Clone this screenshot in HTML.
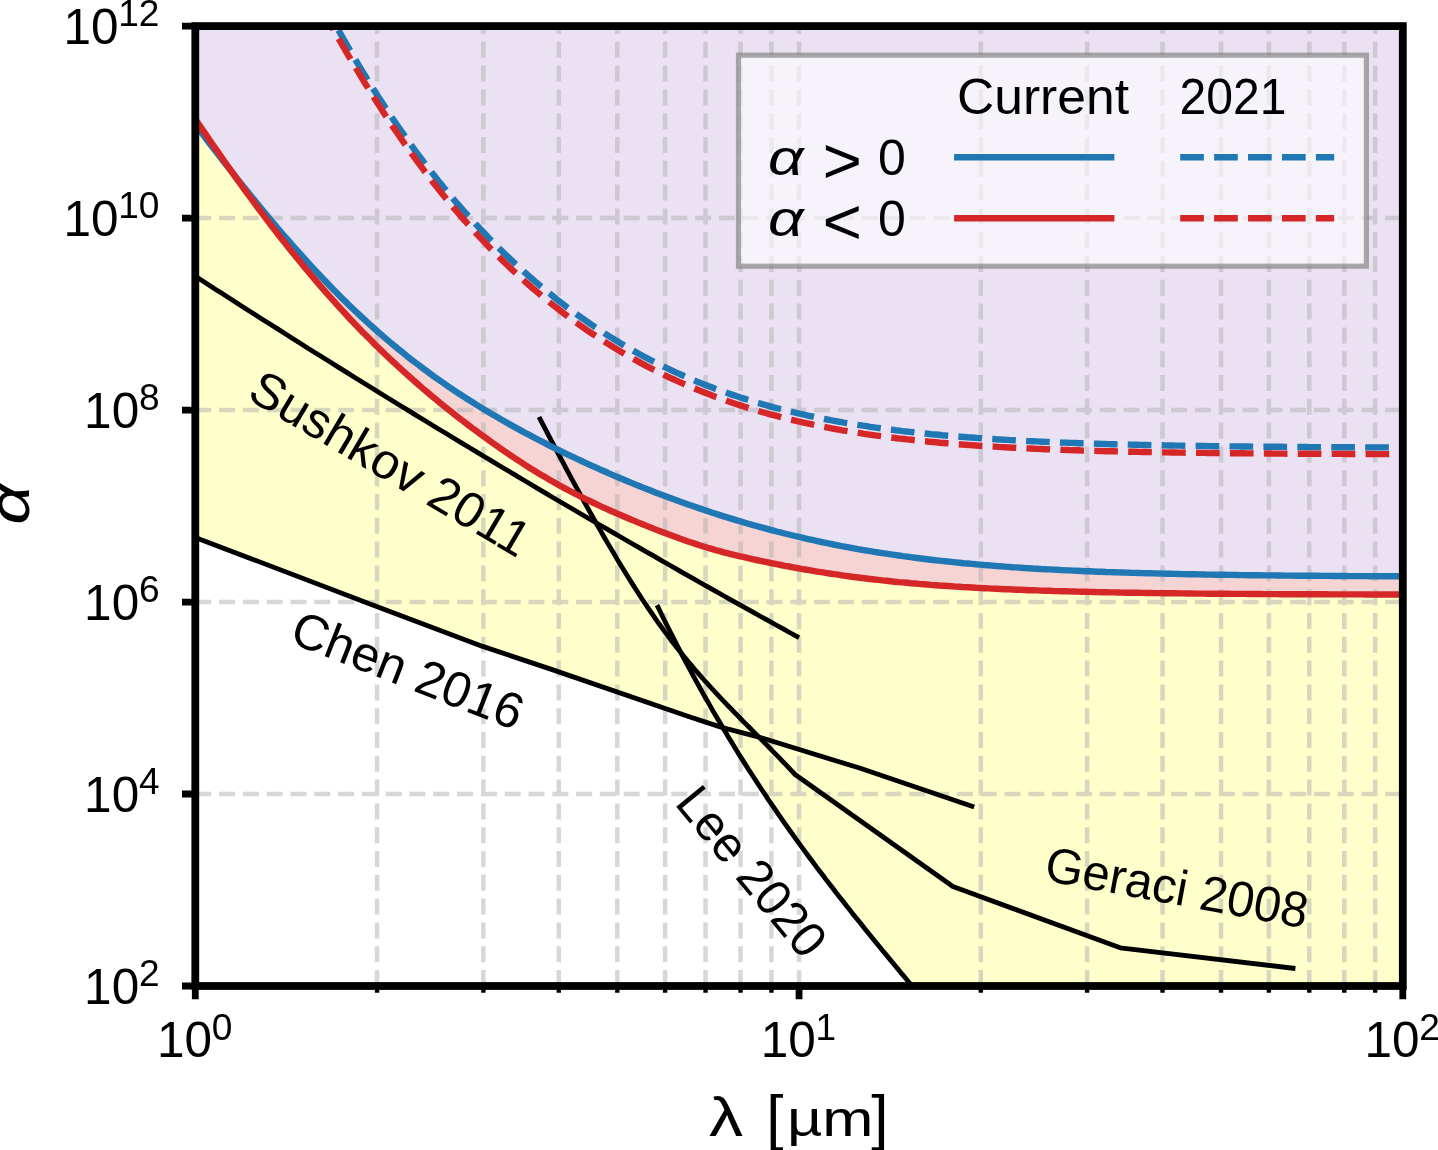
<!DOCTYPE html>
<html><head><meta charset="utf-8"><title>alpha-lambda limits</title>
<style>html,body{margin:0;padding:0;background:#fff}svg{display:block}text{font-family:"Liberation Sans",sans-serif;fill:#000}</style></head><body>
<svg width="1438" height="1150" viewBox="0 0 1438 1150">
<rect width="1438" height="1150" fill="#fff"/>
<defs><clipPath id="ax"><rect x="195.30" y="26.10" width="1207.50" height="959.90"/></clipPath></defs>
<g clip-path="url(#ax)">
<path d="M195.2,537.4 L197.2,538.1 L199.2,538.9 L201.1,539.6 L203.1,540.4 L205.0,541.1 L207.0,541.9 L208.9,542.6 L210.9,543.4 L212.8,544.1 L214.8,544.8 L216.7,545.6 L218.7,546.3 L220.6,547.1 L222.6,547.8 L224.5,548.6 L226.5,549.3 L228.4,550.0 L230.4,550.8 L232.3,551.5 L234.3,552.3 L236.2,553.0 L238.2,553.8 L240.2,554.5 L242.1,555.3 L244.1,556.0 L246.0,556.7 L248.0,557.5 L249.9,558.2 L251.9,559.0 L253.8,559.7 L255.8,560.5 L257.7,561.2 L259.7,562.0 L261.6,562.7 L263.6,563.4 L265.5,564.2 L267.5,564.9 L269.4,565.7 L271.4,566.4 L273.3,567.2 L275.3,567.9 L277.2,568.6 L279.2,569.4 L281.1,570.1 L283.1,570.9 L285.1,571.6 L287.0,572.4 L289.0,573.1 L290.9,573.9 L292.9,574.6 L294.8,575.3 L296.8,576.1 L298.7,576.8 L300.7,577.6 L302.6,578.3 L304.6,579.1 L306.5,579.8 L308.5,580.6 L310.4,581.3 L312.4,582.0 L314.3,582.8 L316.3,583.5 L318.2,584.3 L320.2,585.0 L322.1,585.8 L324.1,586.5 L326.1,587.3 L328.0,588.0 L330.0,588.7 L331.9,589.5 L333.9,590.2 L335.8,591.0 L337.8,591.7 L339.7,592.5 L341.7,593.2 L343.6,593.9 L345.6,594.7 L347.5,595.4 L349.5,596.2 L351.4,596.9 L353.4,597.7 L355.3,598.4 L357.3,599.2 L359.2,599.9 L361.2,600.6 L363.1,601.4 L365.1,602.1 L367.0,602.9 L369.0,603.6 L371.0,604.4 L372.9,605.1 L374.9,605.8 L376.8,606.6 L378.8,607.3 L380.7,608.0 L382.7,608.8 L384.6,609.5 L386.6,610.2 L388.5,611.0 L390.5,611.7 L392.4,612.4 L394.4,613.2 L396.3,613.9 L398.3,614.6 L400.2,615.4 L402.2,616.1 L404.1,616.8 L406.1,617.6 L408.0,618.3 L410.0,619.0 L412.0,619.8 L413.9,620.5 L415.9,621.3 L417.8,622.0 L419.8,622.7 L421.7,623.5 L423.7,624.2 L425.6,624.9 L427.6,625.7 L429.5,626.4 L431.5,627.1 L433.4,627.9 L435.4,628.6 L437.3,629.3 L439.3,630.1 L441.2,630.8 L443.2,631.5 L445.1,632.3 L447.1,633.0 L449.0,633.7 L451.0,634.5 L452.9,635.2 L454.9,635.9 L456.9,636.7 L458.8,637.4 L460.8,638.1 L462.7,638.9 L464.7,639.6 L466.6,640.3 L468.6,641.1 L470.5,641.8 L472.5,642.6 L474.4,643.3 L476.4,644.0 L478.3,644.8 L480.3,645.5 L482.2,646.2 L484.2,646.9 L486.1,647.5 L488.1,648.2 L490.0,648.9 L492.0,649.5 L493.9,650.2 L495.9,650.8 L497.8,651.5 L499.8,652.1 L501.8,652.8 L503.7,653.4 L505.7,654.1 L507.6,654.7 L509.6,655.4 L511.5,656.0 L513.5,656.7 L515.4,657.3 L517.4,658.0 L519.3,658.6 L521.3,659.3 L523.2,659.9 L525.2,660.6 L527.1,661.3 L529.1,661.9 L531.0,662.6 L533.0,663.2 L534.9,663.9 L536.9,664.5 L538.8,665.2 L540.8,665.8 L542.8,666.5 L544.7,667.1 L546.7,667.8 L548.6,668.4 L550.6,669.1 L552.5,669.8 L554.5,670.4 L556.4,671.1 L558.4,671.8 L560.3,672.4 L562.3,673.1 L564.2,673.8 L566.2,674.4 L568.1,675.1 L570.1,675.8 L572.0,676.5 L574.0,677.1 L575.9,677.8 L577.9,678.5 L579.8,679.1 L581.8,679.8 L583.7,680.5 L585.7,681.1 L587.7,681.8 L589.6,682.5 L591.6,683.1 L593.5,683.8 L595.5,684.5 L597.4,685.2 L599.4,685.8 L601.3,686.5 L603.3,687.2 L605.2,687.8 L607.2,688.5 L609.1,689.2 L611.1,689.8 L613.0,690.5 L615.0,691.2 L616.9,691.8 L618.9,692.5 L620.8,693.2 L622.8,693.9 L624.7,694.5 L626.7,695.2 L628.7,695.9 L630.6,696.5 L632.6,697.2 L634.5,697.9 L636.5,698.5 L638.4,699.2 L640.4,699.9 L642.3,700.6 L644.3,701.2 L646.2,701.9 L648.2,702.6 L650.1,703.2 L652.1,703.9 L654.0,704.6 L656.0,705.2 L657.9,705.9 L659.9,706.6 L661.8,707.2 L663.8,707.9 L665.7,708.6 L667.7,709.3 L669.6,709.9 L671.6,710.6 L673.6,711.3 L675.5,711.9 L677.5,712.6 L679.4,713.3 L681.4,713.9 L683.3,714.6 L685.3,715.3 L687.2,715.9 L689.2,716.6 L691.1,717.3 L693.1,717.9 L695.0,718.6 L697.0,719.2 L698.9,719.8 L700.9,720.5 L702.8,721.1 L704.8,721.8 L706.7,722.4 L708.7,723.1 L710.6,723.7 L712.6,724.3 L714.6,725.0 L716.5,725.6 L718.5,726.3 L720.4,726.9 L722.4,727.6 L722.7,727.5 L725.6,732.3 L728.8,737.7 L732.1,743.1 L735.4,748.4 L738.6,753.7 L741.9,758.9 L745.2,764.1 L748.4,769.2 L751.7,774.3 L755.0,779.3 L758.2,784.3 L761.5,789.3 L764.8,794.2 L768.0,799.1 L771.3,803.9 L774.6,808.7 L777.8,813.4 L781.1,818.1 L784.4,822.8 L787.6,827.4 L790.9,832.0 L794.2,836.6 L797.4,841.1 L800.7,845.6 L804.0,850.1 L807.2,854.5 L810.5,859.0 L813.8,863.3 L817.0,867.7 L820.3,872.0 L823.6,876.3 L826.8,880.6 L830.1,884.8 L833.4,889.0 L836.6,893.3 L839.9,897.4 L843.2,901.6 L846.4,905.7 L849.7,909.8 L852.9,913.9 L856.2,918.0 L859.5,922.1 L862.7,926.1 L866.0,930.2 L869.3,934.2 L872.5,938.2 L875.8,942.2 L879.1,946.2 L882.3,950.2 L885.6,954.1 L888.9,958.1 L892.1,962.0 L895.4,966.0 L898.7,969.9 L901.9,973.9 L905.2,977.8 L908.5,981.7 L911.7,985.6 L915.0,989.5 L915.0,986.0 L1402.8,986.0 L1406.8,594.5 L1402.7,594.5 L1398.7,594.5 L1394.6,594.5 L1390.5,594.5 L1386.5,594.5 L1382.4,594.5 L1378.3,594.5 L1374.3,594.5 L1370.2,594.5 L1366.1,594.5 L1362.1,594.4 L1358.0,594.4 L1354.0,594.4 L1349.9,594.4 L1345.8,594.4 L1341.8,594.4 L1337.7,594.4 L1333.6,594.4 L1329.6,594.4 L1325.5,594.3 L1321.4,594.3 L1317.4,594.3 L1313.3,594.3 L1309.2,594.3 L1305.2,594.3 L1301.1,594.2 L1297.0,594.2 L1293.0,594.2 L1288.9,594.2 L1284.8,594.2 L1280.8,594.2 L1276.7,594.1 L1272.6,594.1 L1268.6,594.1 L1264.5,594.1 L1260.5,594.0 L1256.4,594.0 L1252.3,594.0 L1248.3,594.0 L1244.2,593.9 L1240.1,593.9 L1236.1,593.9 L1232.0,593.9 L1227.9,593.8 L1223.9,593.8 L1219.8,593.8 L1215.7,593.7 L1211.7,593.7 L1207.6,593.7 L1203.5,593.6 L1199.5,593.6 L1195.4,593.6 L1191.3,593.5 L1187.3,593.5 L1183.2,593.4 L1179.1,593.4 L1175.1,593.3 L1171.0,593.3 L1167.0,593.2 L1162.9,593.2 L1158.8,593.1 L1154.8,593.1 L1150.7,593.0 L1146.6,593.0 L1142.6,592.9 L1138.5,592.8 L1134.4,592.8 L1130.4,592.7 L1126.3,592.7 L1122.2,592.6 L1118.2,592.5 L1114.1,592.4 L1110.0,592.4 L1106.0,592.3 L1101.9,592.2 L1097.8,592.1 L1093.8,592.0 L1089.7,591.9 L1085.6,591.8 L1081.6,591.7 L1077.5,591.6 L1073.5,591.5 L1069.4,591.4 L1065.3,591.3 L1061.3,591.2 L1057.2,591.1 L1053.1,591.0 L1049.1,590.8 L1045.0,590.7 L1040.9,590.6 L1036.9,590.4 L1032.8,590.3 L1028.7,590.2 L1024.7,590.0 L1020.6,589.8 L1016.5,589.7 L1012.5,589.5 L1008.4,589.3 L1004.3,589.2 L1000.3,589.0 L996.2,588.8 L992.1,588.6 L988.1,588.4 L984.0,588.2 L980.0,588.0 L975.9,587.8 L971.8,587.5 L967.8,587.3 L963.7,587.1 L959.6,586.8 L955.6,586.6 L951.5,586.3 L947.4,586.0 L943.4,585.7 L939.3,585.5 L935.2,585.2 L931.2,584.9 L927.1,584.5 L923.0,584.2 L919.0,583.9 L914.9,583.5 L910.8,583.2 L906.8,582.8 L902.7,582.4 L898.6,582.1 L894.6,581.7 L890.5,581.2 L886.5,580.8 L882.4,580.4 L878.3,579.9 L874.3,579.5 L870.2,579.0 L866.1,578.5 L862.1,578.0 L858.0,577.5 L853.9,577.0 L849.9,576.5 L845.8,575.9 L841.7,575.3 L837.7,574.7 L833.6,574.1 L829.5,573.5 L825.5,572.9 L821.4,572.2 L817.3,571.6 L813.3,570.9 L809.2,570.2 L805.1,569.5 L801.1,568.8 L797.0,568.0 L793.0,567.3 L788.9,566.5 L784.8,565.8 L780.8,565.0 L776.7,564.2 L772.6,563.3 L768.6,562.5 L764.5,561.7 L760.4,560.8 L756.4,560.0 L752.3,559.1 L748.2,558.2 L744.2,557.2 L740.1,556.3 L736.0,555.3 L732.0,554.3 L727.9,553.3 L723.8,552.3 L719.8,551.2 L715.7,550.1 L711.6,548.9 L707.6,547.7 L703.5,546.5 L699.5,545.2 L695.4,543.9 L691.3,542.5 L687.3,541.2 L683.2,539.7 L679.1,538.3 L675.1,536.8 L671.0,535.3 L666.9,533.8 L662.9,532.2 L658.8,530.7 L654.7,529.1 L650.7,527.5 L646.6,525.9 L642.5,524.2 L638.5,522.6 L634.4,520.9 L630.3,519.2 L626.3,517.5 L622.2,515.8 L618.1,514.0 L614.1,512.3 L610.0,510.5 L606.0,508.6 L601.9,506.8 L597.8,504.9 L593.8,503.0 L589.7,501.0 L585.6,499.1 L581.6,497.0 L577.5,495.0 L573.4,492.9 L569.4,490.8 L565.3,488.6 L561.2,486.4 L557.2,484.1 L553.1,481.8 L549.0,479.5 L545.0,477.1 L540.9,474.7 L536.8,472.2 L532.8,469.7 L528.7,467.2 L524.6,464.6 L520.6,461.9 L516.5,459.3 L512.5,456.6 L508.4,453.9 L504.3,451.1 L500.3,448.3 L496.2,445.4 L492.1,442.6 L488.1,439.7 L484.0,436.7 L479.9,433.7 L475.9,430.7 L471.8,427.7 L467.7,424.6 L463.7,421.5 L459.6,418.4 L455.5,415.2 L451.5,412.0 L447.4,408.8 L443.3,405.5 L439.3,402.2 L435.2,398.8 L431.1,395.5 L427.1,392.0 L423.0,388.6 L419.0,385.1 L414.9,381.5 L410.8,377.9 L406.8,374.3 L402.7,370.6 L398.6,366.9 L394.6,363.2 L390.5,359.4 L386.4,355.5 L382.4,351.6 L378.3,347.7 L374.2,343.7 L370.2,339.6 L366.1,335.5 L362.0,331.4 L358.0,327.2 L353.9,323.0 L349.8,318.7 L345.8,314.3 L341.7,309.9 L337.6,305.4 L333.6,300.9 L329.5,296.4 L325.5,291.8 L321.4,287.1 L317.3,282.4 L313.3,277.6 L309.2,272.8 L305.1,267.9 L301.1,263.0 L297.0,258.1 L292.9,253.0 L288.9,248.0 L284.8,242.8 L280.7,237.7 L276.7,232.4 L272.6,227.2 L268.5,221.9 L264.5,216.5 L260.4,211.1 L256.3,205.7 L252.3,200.2 L248.2,194.6 L244.1,189.1 L240.1,183.4 L236.0,177.8 L232.0,172.1 L227.9,166.3 L223.8,160.6 L219.8,154.7 L215.7,148.9 L211.6,143.0 L207.6,137.1 L203.5,131.1 L199.4,125.2 L195.4,119.1 L191.3,113.1Z" fill="#ffffcc"/>
<path d="M191.3,113.1 L195.4,119.1 L199.4,125.2 L203.5,131.1 L207.6,137.1 L211.6,143.0 L215.7,148.9 L219.8,154.7 L223.8,160.6 L227.9,166.3 L232.0,172.1 L236.0,177.8 L240.1,183.4 L244.1,189.1 L248.2,194.6 L252.3,200.2 L256.3,205.7 L260.4,211.1 L264.5,216.5 L268.5,221.9 L272.6,227.2 L276.7,232.4 L280.7,237.7 L284.8,242.8 L288.9,248.0 L292.9,253.0 L297.0,258.1 L301.1,263.0 L305.1,267.9 L309.2,272.8 L313.3,277.6 L317.3,282.4 L321.4,287.1 L325.5,291.8 L329.5,296.4 L333.6,300.9 L337.6,305.4 L341.7,309.9 L345.8,314.3 L349.8,318.7 L353.9,323.0 L358.0,327.2 L362.0,331.4 L366.1,335.5 L370.2,339.6 L374.2,343.7 L378.3,347.7 L382.4,351.6 L386.4,355.5 L390.5,359.4 L394.6,363.2 L398.6,366.9 L402.7,370.6 L406.8,374.3 L410.8,377.9 L414.9,381.5 L419.0,385.1 L423.0,388.6 L427.1,392.0 L431.1,395.5 L435.2,398.8 L439.3,402.2 L443.3,405.5 L447.4,408.8 L451.5,412.0 L455.5,415.2 L459.6,418.4 L463.7,421.5 L467.7,424.6 L471.8,427.7 L475.9,430.7 L479.9,433.7 L484.0,436.7 L488.1,439.7 L492.1,442.6 L496.2,445.4 L500.3,448.3 L504.3,451.1 L508.4,453.9 L512.5,456.6 L516.5,459.3 L520.6,461.9 L524.6,464.6 L528.7,467.2 L532.8,469.7 L536.8,472.2 L540.9,474.7 L545.0,477.1 L549.0,479.5 L553.1,481.8 L557.2,484.1 L561.2,486.4 L565.3,488.6 L569.4,490.8 L573.4,492.9 L577.5,495.0 L581.6,497.0 L585.6,499.1 L589.7,501.0 L593.8,503.0 L597.8,504.9 L601.9,506.8 L606.0,508.6 L610.0,510.5 L614.1,512.3 L618.1,514.0 L622.2,515.8 L626.3,517.5 L630.3,519.2 L634.4,520.9 L638.5,522.6 L642.5,524.2 L646.6,525.9 L650.7,527.5 L654.7,529.1 L658.8,530.7 L662.9,532.2 L666.9,533.8 L671.0,535.3 L675.1,536.8 L679.1,538.3 L683.2,539.7 L687.3,541.2 L691.3,542.5 L695.4,543.9 L699.5,545.2 L703.5,546.5 L707.6,547.7 L711.6,548.9 L715.7,550.1 L719.8,551.2 L723.8,552.3 L727.9,553.3 L732.0,554.3 L736.0,555.3 L740.1,556.3 L744.2,557.2 L748.2,558.2 L752.3,559.1 L756.4,560.0 L760.4,560.8 L764.5,561.7 L768.6,562.5 L772.6,563.3 L776.7,564.2 L780.8,565.0 L784.8,565.8 L788.9,566.5 L793.0,567.3 L797.0,568.0 L801.1,568.8 L805.1,569.5 L809.2,570.2 L813.3,570.9 L817.3,571.6 L821.4,572.2 L825.5,572.9 L829.5,573.5 L833.6,574.1 L837.7,574.7 L841.7,575.3 L845.8,575.9 L849.9,576.5 L853.9,577.0 L858.0,577.5 L862.1,578.0 L866.1,578.5 L870.2,579.0 L874.3,579.5 L878.3,579.9 L882.4,580.4 L886.5,580.8 L890.5,581.2 L894.6,581.7 L898.6,582.1 L902.7,582.4 L906.8,582.8 L910.8,583.2 L914.9,583.5 L919.0,583.9 L923.0,584.2 L927.1,584.5 L931.2,584.9 L935.2,585.2 L939.3,585.5 L943.4,585.7 L947.4,586.0 L951.5,586.3 L955.6,586.6 L959.6,586.8 L963.7,587.1 L967.8,587.3 L971.8,587.5 L975.9,587.8 L980.0,588.0 L984.0,588.2 L988.1,588.4 L992.1,588.6 L996.2,588.8 L1000.3,589.0 L1004.3,589.2 L1008.4,589.3 L1012.5,589.5 L1016.5,589.7 L1020.6,589.8 L1024.7,590.0 L1028.7,590.2 L1032.8,590.3 L1036.9,590.4 L1040.9,590.6 L1045.0,590.7 L1049.1,590.8 L1053.1,591.0 L1057.2,591.1 L1061.3,591.2 L1065.3,591.3 L1069.4,591.4 L1073.5,591.5 L1077.5,591.6 L1081.6,591.7 L1085.6,591.8 L1089.7,591.9 L1093.8,592.0 L1097.8,592.1 L1101.9,592.2 L1106.0,592.3 L1110.0,592.4 L1114.1,592.4 L1118.2,592.5 L1122.2,592.6 L1126.3,592.7 L1130.4,592.7 L1134.4,592.8 L1138.5,592.8 L1142.6,592.9 L1146.6,593.0 L1150.7,593.0 L1154.8,593.1 L1158.8,593.1 L1162.9,593.2 L1167.0,593.2 L1171.0,593.3 L1175.1,593.3 L1179.1,593.4 L1183.2,593.4 L1187.3,593.5 L1191.3,593.5 L1195.4,593.6 L1199.5,593.6 L1203.5,593.6 L1207.6,593.7 L1211.7,593.7 L1215.7,593.7 L1219.8,593.8 L1223.9,593.8 L1227.9,593.8 L1232.0,593.9 L1236.1,593.9 L1240.1,593.9 L1244.2,593.9 L1248.3,594.0 L1252.3,594.0 L1256.4,594.0 L1260.5,594.0 L1264.5,594.1 L1268.6,594.1 L1272.6,594.1 L1276.7,594.1 L1280.8,594.2 L1284.8,594.2 L1288.9,594.2 L1293.0,594.2 L1297.0,594.2 L1301.1,594.2 L1305.2,594.3 L1309.2,594.3 L1313.3,594.3 L1317.4,594.3 L1321.4,594.3 L1325.5,594.3 L1329.6,594.4 L1333.6,594.4 L1337.7,594.4 L1341.8,594.4 L1345.8,594.4 L1349.9,594.4 L1354.0,594.4 L1358.0,594.4 L1362.1,594.4 L1366.1,594.5 L1370.2,594.5 L1374.3,594.5 L1378.3,594.5 L1382.4,594.5 L1386.5,594.5 L1390.5,594.5 L1394.6,594.5 L1398.7,594.5 L1402.7,594.5 L1406.8,594.5 L1406.8,576.3 L1402.7,576.3 L1398.7,576.3 L1394.6,576.3 L1390.5,576.3 L1386.5,576.2 L1382.4,576.2 L1378.3,576.2 L1374.3,576.2 L1370.2,576.2 L1366.1,576.1 L1362.1,576.1 L1358.0,576.1 L1354.0,576.1 L1349.9,576.1 L1345.8,576.0 L1341.8,576.0 L1337.7,576.0 L1333.6,576.0 L1329.6,575.9 L1325.5,575.9 L1321.4,575.9 L1317.4,575.8 L1313.3,575.8 L1309.2,575.8 L1305.2,575.7 L1301.1,575.7 L1297.0,575.7 L1293.0,575.6 L1288.9,575.6 L1284.8,575.6 L1280.8,575.5 L1276.7,575.5 L1272.6,575.4 L1268.6,575.4 L1264.5,575.4 L1260.5,575.3 L1256.4,575.3 L1252.3,575.2 L1248.3,575.2 L1244.2,575.1 L1240.1,575.1 L1236.1,575.0 L1232.0,574.9 L1227.9,574.9 L1223.9,574.8 L1219.8,574.8 L1215.7,574.7 L1211.7,574.6 L1207.6,574.6 L1203.5,574.5 L1199.5,574.4 L1195.4,574.3 L1191.3,574.3 L1187.3,574.2 L1183.2,574.1 L1179.1,574.0 L1175.1,573.9 L1171.0,573.8 L1167.0,573.7 L1162.9,573.6 L1158.8,573.5 L1154.8,573.4 L1150.7,573.3 L1146.6,573.2 L1142.6,573.1 L1138.5,573.0 L1134.4,572.9 L1130.4,572.8 L1126.3,572.6 L1122.2,572.5 L1118.2,572.4 L1114.1,572.2 L1110.0,572.1 L1106.0,572.0 L1101.9,571.8 L1097.8,571.7 L1093.8,571.5 L1089.7,571.3 L1085.6,571.2 L1081.6,571.0 L1077.5,570.8 L1073.5,570.6 L1069.4,570.4 L1065.3,570.3 L1061.3,570.1 L1057.2,569.8 L1053.1,569.6 L1049.1,569.4 L1045.0,569.2 L1040.9,569.0 L1036.9,568.7 L1032.8,568.5 L1028.7,568.2 L1024.7,568.0 L1020.6,567.7 L1016.5,567.4 L1012.5,567.2 L1008.4,566.9 L1004.3,566.6 L1000.3,566.3 L996.2,566.0 L992.1,565.6 L988.1,565.3 L984.0,565.0 L980.0,564.6 L975.9,564.3 L971.8,563.9 L967.8,563.5 L963.7,563.2 L959.6,562.8 L955.6,562.4 L951.5,561.9 L947.4,561.5 L943.4,561.1 L939.3,560.6 L935.2,560.2 L931.2,559.7 L927.1,559.2 L923.0,558.7 L919.0,558.2 L914.9,557.7 L910.8,557.2 L906.8,556.6 L902.7,556.1 L898.6,555.5 L894.6,554.9 L890.5,554.3 L886.5,553.7 L882.4,553.1 L878.3,552.5 L874.3,551.8 L870.2,551.1 L866.1,550.5 L862.1,549.8 L858.0,549.1 L853.9,548.3 L849.9,547.6 L845.8,546.8 L841.7,546.1 L837.7,545.3 L833.6,544.5 L829.5,543.6 L825.5,542.8 L821.4,542.0 L817.3,541.1 L813.3,540.2 L809.2,539.3 L805.1,538.4 L801.1,537.4 L797.0,536.5 L793.0,535.5 L788.9,534.5 L784.8,533.5 L780.8,532.5 L776.7,531.5 L772.6,530.4 L768.6,529.3 L764.5,528.2 L760.4,527.1 L756.4,526.0 L752.3,524.9 L748.2,523.7 L744.2,522.5 L740.1,521.3 L736.0,520.1 L732.0,518.9 L727.9,517.6 L723.8,516.4 L719.8,515.1 L715.7,513.8 L711.6,512.5 L707.6,511.1 L703.5,509.8 L699.5,508.4 L695.4,507.0 L691.3,505.6 L687.3,504.2 L683.2,502.7 L679.1,501.3 L675.1,499.8 L671.0,498.3 L666.9,496.8 L662.9,495.3 L658.8,493.7 L654.7,492.2 L650.7,490.6 L646.6,489.0 L642.5,487.4 L638.5,485.7 L634.4,484.1 L630.3,482.4 L626.3,480.7 L622.2,479.0 L618.1,477.3 L614.1,475.6 L610.0,473.8 L606.0,472.0 L601.9,470.3 L597.8,468.4 L593.8,466.6 L589.7,464.8 L585.6,462.9 L581.6,461.0 L577.5,459.1 L573.4,457.2 L569.4,455.3 L565.3,453.3 L561.2,451.3 L557.2,449.3 L553.1,447.3 L549.0,445.3 L545.0,443.2 L540.9,441.1 L536.8,439.0 L532.8,436.9 L528.7,434.7 L524.6,432.6 L520.6,430.4 L516.5,428.1 L512.5,425.9 L508.4,423.6 L504.3,421.3 L500.3,419.0 L496.2,416.6 L492.1,414.2 L488.1,411.8 L484.0,409.4 L479.9,406.9 L475.9,404.4 L471.8,401.8 L467.7,399.2 L463.7,396.6 L459.6,394.0 L455.5,391.3 L451.5,388.6 L447.4,385.8 L443.3,383.0 L439.3,380.1 L435.2,377.3 L431.1,374.3 L427.1,371.4 L423.0,368.4 L419.0,365.3 L414.9,362.2 L410.8,359.1 L406.8,355.9 L402.7,352.6 L398.6,349.3 L394.6,346.0 L390.5,342.6 L386.4,339.1 L382.4,335.7 L378.3,332.1 L374.2,328.5 L370.2,324.9 L366.1,321.2 L362.0,317.4 L358.0,313.6 L353.9,309.8 L349.8,305.9 L345.8,301.9 L341.7,297.9 L337.6,293.8 L333.6,289.7 L329.5,285.5 L325.5,281.3 L321.4,277.0 L317.3,272.7 L313.3,268.4 L309.2,263.9 L305.1,259.5 L301.1,255.0 L297.0,250.4 L292.9,245.8 L288.9,241.2 L284.8,236.5 L280.7,231.8 L276.7,227.0 L272.6,222.2 L268.5,217.3 L264.5,212.5 L260.4,207.5 L256.3,202.6 L252.3,197.6 L248.2,192.6 L244.1,187.5 L240.1,182.4 L236.0,177.3 L232.0,172.1 L227.9,167.0 L223.8,161.8 L219.8,156.5 L215.7,151.3 L211.6,146.0 L207.6,140.7 L203.5,135.3 L199.4,130.0 L195.4,124.6 L191.3,119.2Z" fill="#f7d4d4"/>
<path d="M191.3,119.2 L195.4,124.6 L199.4,130.0 L203.5,135.3 L207.6,140.7 L211.6,146.0 L215.7,151.3 L219.8,156.5 L223.8,161.8 L227.9,167.0 L232.0,172.1 L236.0,177.3 L240.1,182.4 L244.1,187.5 L248.2,192.6 L252.3,197.6 L256.3,202.6 L260.4,207.5 L264.5,212.5 L268.5,217.3 L272.6,222.2 L276.7,227.0 L280.7,231.8 L284.8,236.5 L288.9,241.2 L292.9,245.8 L297.0,250.4 L301.1,255.0 L305.1,259.5 L309.2,263.9 L313.3,268.4 L317.3,272.7 L321.4,277.0 L325.5,281.3 L329.5,285.5 L333.6,289.7 L337.6,293.8 L341.7,297.9 L345.8,301.9 L349.8,305.9 L353.9,309.8 L358.0,313.6 L362.0,317.4 L366.1,321.2 L370.2,324.9 L374.2,328.5 L378.3,332.1 L382.4,335.7 L386.4,339.1 L390.5,342.6 L394.6,346.0 L398.6,349.3 L402.7,352.6 L406.8,355.9 L410.8,359.1 L414.9,362.2 L419.0,365.3 L423.0,368.4 L427.1,371.4 L431.1,374.3 L435.2,377.3 L439.3,380.1 L443.3,383.0 L447.4,385.8 L451.5,388.6 L455.5,391.3 L459.6,394.0 L463.7,396.6 L467.7,399.2 L471.8,401.8 L475.9,404.4 L479.9,406.9 L484.0,409.4 L488.1,411.8 L492.1,414.2 L496.2,416.6 L500.3,419.0 L504.3,421.3 L508.4,423.6 L512.5,425.9 L516.5,428.1 L520.6,430.4 L524.6,432.6 L528.7,434.7 L532.8,436.9 L536.8,439.0 L540.9,441.1 L545.0,443.2 L549.0,445.3 L553.1,447.3 L557.2,449.3 L561.2,451.3 L565.3,453.3 L569.4,455.3 L573.4,457.2 L577.5,459.1 L581.6,461.0 L585.6,462.9 L589.7,464.8 L593.8,466.6 L597.8,468.4 L601.9,470.3 L606.0,472.0 L610.0,473.8 L614.1,475.6 L618.1,477.3 L622.2,479.0 L626.3,480.7 L630.3,482.4 L634.4,484.1 L638.5,485.7 L642.5,487.4 L646.6,489.0 L650.7,490.6 L654.7,492.2 L658.8,493.7 L662.9,495.3 L666.9,496.8 L671.0,498.3 L675.1,499.8 L679.1,501.3 L683.2,502.7 L687.3,504.2 L691.3,505.6 L695.4,507.0 L699.5,508.4 L703.5,509.8 L707.6,511.1 L711.6,512.5 L715.7,513.8 L719.8,515.1 L723.8,516.4 L727.9,517.6 L732.0,518.9 L736.0,520.1 L740.1,521.3 L744.2,522.5 L748.2,523.7 L752.3,524.9 L756.4,526.0 L760.4,527.1 L764.5,528.2 L768.6,529.3 L772.6,530.4 L776.7,531.5 L780.8,532.5 L784.8,533.5 L788.9,534.5 L793.0,535.5 L797.0,536.5 L801.1,537.4 L805.1,538.4 L809.2,539.3 L813.3,540.2 L817.3,541.1 L821.4,542.0 L825.5,542.8 L829.5,543.6 L833.6,544.5 L837.7,545.3 L841.7,546.1 L845.8,546.8 L849.9,547.6 L853.9,548.3 L858.0,549.1 L862.1,549.8 L866.1,550.5 L870.2,551.1 L874.3,551.8 L878.3,552.5 L882.4,553.1 L886.5,553.7 L890.5,554.3 L894.6,554.9 L898.6,555.5 L902.7,556.1 L906.8,556.6 L910.8,557.2 L914.9,557.7 L919.0,558.2 L923.0,558.7 L927.1,559.2 L931.2,559.7 L935.2,560.2 L939.3,560.6 L943.4,561.1 L947.4,561.5 L951.5,561.9 L955.6,562.4 L959.6,562.8 L963.7,563.2 L967.8,563.5 L971.8,563.9 L975.9,564.3 L980.0,564.6 L984.0,565.0 L988.1,565.3 L992.1,565.6 L996.2,566.0 L1000.3,566.3 L1004.3,566.6 L1008.4,566.9 L1012.5,567.2 L1016.5,567.4 L1020.6,567.7 L1024.7,568.0 L1028.7,568.2 L1032.8,568.5 L1036.9,568.7 L1040.9,569.0 L1045.0,569.2 L1049.1,569.4 L1053.1,569.6 L1057.2,569.8 L1061.3,570.1 L1065.3,570.3 L1069.4,570.4 L1073.5,570.6 L1077.5,570.8 L1081.6,571.0 L1085.6,571.2 L1089.7,571.3 L1093.8,571.5 L1097.8,571.7 L1101.9,571.8 L1106.0,572.0 L1110.0,572.1 L1114.1,572.2 L1118.2,572.4 L1122.2,572.5 L1126.3,572.6 L1130.4,572.8 L1134.4,572.9 L1138.5,573.0 L1142.6,573.1 L1146.6,573.2 L1150.7,573.3 L1154.8,573.4 L1158.8,573.5 L1162.9,573.6 L1167.0,573.7 L1171.0,573.8 L1175.1,573.9 L1179.1,574.0 L1183.2,574.1 L1187.3,574.2 L1191.3,574.3 L1195.4,574.3 L1199.5,574.4 L1203.5,574.5 L1207.6,574.6 L1211.7,574.6 L1215.7,574.7 L1219.8,574.8 L1223.9,574.8 L1227.9,574.9 L1232.0,574.9 L1236.1,575.0 L1240.1,575.1 L1244.2,575.1 L1248.3,575.2 L1252.3,575.2 L1256.4,575.3 L1260.5,575.3 L1264.5,575.4 L1268.6,575.4 L1272.6,575.4 L1276.7,575.5 L1280.8,575.5 L1284.8,575.6 L1288.9,575.6 L1293.0,575.6 L1297.0,575.7 L1301.1,575.7 L1305.2,575.7 L1309.2,575.8 L1313.3,575.8 L1317.4,575.8 L1321.4,575.9 L1325.5,575.9 L1329.6,575.9 L1333.6,576.0 L1337.7,576.0 L1341.8,576.0 L1345.8,576.0 L1349.9,576.1 L1354.0,576.1 L1358.0,576.1 L1362.1,576.1 L1366.1,576.1 L1370.2,576.2 L1374.3,576.2 L1378.3,576.2 L1382.4,576.2 L1386.5,576.2 L1390.5,576.3 L1394.6,576.3 L1398.7,576.3 L1402.7,576.3 L1406.8,576.3 L1402.8,26.1 L195.3,26.1Z" fill="#eae1f2"/>
<path d="M377.05,986.00 V26.10 M483.36,986.00 V26.10 M558.79,986.00 V26.10 M617.30,986.00 V26.10 M665.11,986.00 V26.10 M705.53,986.00 V26.10 M740.54,986.00 V26.10 M771.42,986.00 V26.10 M799.05,986.00 V26.10 M980.80,986.00 V26.10 M1087.11,986.00 V26.10 M1162.54,986.00 V26.10 M1221.05,986.00 V26.10 M1268.86,986.00 V26.10 M1309.28,986.00 V26.10 M1344.29,986.00 V26.10 M1375.17,986.00 V26.10 M195.30,794.02 H1402.80 M195.30,602.04 H1402.80 M195.30,410.06 H1402.80 M195.30,218.08 H1402.80" fill="none" stroke="#b0b0b0" stroke-opacity="0.50" stroke-width="4.50" stroke-dasharray="16.00 7.80" stroke-dashoffset="0.00"/>
<path d="M192.3,274.3 L200.0,279.2 L207.7,284.2 L215.3,289.2 L223.0,294.1 L230.7,299.0 L238.4,304.0 L246.1,308.9 L253.7,313.8 L261.4,318.7 L269.1,323.6 L276.8,328.4 L284.5,333.3 L292.2,338.2 L299.8,343.0 L307.5,347.9 L315.2,352.7 L322.9,357.5 L330.6,362.3 L338.2,367.1 L345.9,371.9 L353.6,376.7 L361.3,381.5 L369.0,386.2 L376.6,391.0 L384.3,395.7 L392.0,400.5 L399.7,405.2 L407.4,409.9 L415.0,414.6 L422.7,419.3 L430.4,424.0 L438.1,428.7 L445.8,433.3 L453.5,438.0 L461.1,442.6 L468.8,447.3 L476.5,451.9 L484.2,456.5 L491.9,461.1 L499.5,465.7 L507.2,470.3 L514.9,474.9 L522.6,479.5 L530.3,484.0 L537.9,488.6 L545.6,493.1 L553.3,497.7 L561.0,502.2 L568.7,506.7 L576.4,511.2 L584.0,515.7 L591.7,520.2 L599.4,524.7 L607.1,529.1 L614.8,533.6 L622.4,538.0 L630.1,542.5 L637.8,546.9 L645.5,551.3 L653.2,555.7 L660.8,560.1 L668.5,564.5 L676.2,568.9 L683.9,573.3 L691.6,577.6 L699.2,582.0 L706.9,586.3 L714.6,590.7 L722.3,595.0 L730.0,599.3 L737.7,603.6 L745.3,607.9 L753.0,612.2 L760.7,616.5 L768.4,620.7 L776.1,625.0 L783.7,629.2 L791.4,633.5 L799.1,637.7" fill="none" stroke="#000" stroke-width="4.80" stroke-linejoin="round"/>
<path d="M195.2,537.4 L370.0,604.0 L482.7,646.4 L550.0,668.9 L690.0,716.9 L722.5,727.6 L758.2,736.9 L860.3,768.3 L974.2,807.1" fill="none" stroke="#000" stroke-width="4.80" stroke-linejoin="round"/>
<path d="M657.0,605.1 L660.3,611.8 L663.5,618.5 L666.8,625.0 L670.1,631.5 L673.3,637.9 L676.6,644.3 L679.9,650.6 L683.1,656.8 L686.4,663.0 L689.7,669.1 L692.9,675.1 L696.2,681.1 L699.5,687.0 L702.7,692.9 L706.0,698.7 L709.3,704.4 L712.5,710.1 L715.8,715.7 L719.1,721.3 L722.3,726.8 L725.6,732.3 L728.8,737.7 L732.1,743.1 L735.4,748.4 L738.6,753.7 L741.9,758.9 L745.2,764.1 L748.4,769.2 L751.7,774.3 L755.0,779.3 L758.2,784.3 L761.5,789.3 L764.8,794.2 L768.0,799.1 L771.3,803.9 L774.6,808.7 L777.8,813.4 L781.1,818.1 L784.4,822.8 L787.6,827.4 L790.9,832.0 L794.2,836.6 L797.4,841.1 L800.7,845.6 L804.0,850.1 L807.2,854.5 L810.5,859.0 L813.8,863.3 L817.0,867.7 L820.3,872.0 L823.6,876.3 L826.8,880.6 L830.1,884.8 L833.4,889.0 L836.6,893.3 L839.9,897.4 L843.2,901.6 L846.4,905.7 L849.7,909.8 L852.9,913.9 L856.2,918.0 L859.5,922.1 L862.7,926.1 L866.0,930.2 L869.3,934.2 L872.5,938.2 L875.8,942.2 L879.1,946.2 L882.3,950.2 L885.6,954.1 L888.9,958.1 L892.1,962.0 L895.4,966.0 L898.7,969.9 L901.9,973.9 L905.2,977.8 L908.5,981.7 L911.7,985.6 L915.0,989.5" fill="none" stroke="#000" stroke-width="4.80" stroke-linejoin="round"/>
<path d="M539.0,417.0 L542.2,423.2 L545.5,429.4 L548.7,435.6 L552.0,441.8 L555.2,447.9 L558.5,454.0 L561.7,460.1 L564.9,466.2 L568.2,472.3 L571.4,478.3 L574.7,484.3 L577.9,490.2 L581.1,496.1 L584.4,502.0 L587.6,507.9 L590.9,513.7 L594.1,519.5 L597.4,525.2 L600.6,530.9 L603.8,536.5 L607.1,542.1 L610.3,547.6 L613.6,553.1 L616.8,558.6 L620.0,564.0 L623.3,569.3 L626.5,574.5 L629.8,579.8 L633.0,584.9 L636.3,590.0 L639.5,595.0 L642.7,600.0 L646.0,604.8 L649.2,609.6 L652.5,614.4 L655.7,619.1 L658.9,623.6 L662.2,628.2 L665.4,632.6 L668.7,636.9 L671.9,641.2 L675.2,645.4 L678.4,649.5 L681.6,653.6 L684.9,657.6 L688.1,661.5 L691.4,665.4 L694.6,669.2 L697.8,672.9 L701.1,676.6 L704.3,680.3 L707.6,683.9 L710.8,687.4 L714.1,691.0 L717.3,694.4 L720.5,697.9 L723.8,701.3 L727.0,704.7 L730.3,708.0 L733.5,711.4 L736.7,714.7 L740.0,718.0 L743.2,721.3 L746.5,724.6 L749.7,727.8 L753.0,731.1 L756.2,734.4 L759.4,737.6 L762.7,740.9 L765.9,744.2 L769.2,747.5 L772.4,750.8 L775.6,754.1 L778.9,757.4 L782.1,760.8 L785.4,764.2 L788.6,767.6 L791.9,771.1 L795.1,774.5 L952.9,886.5 L1120.2,947.8 L1295.4,968.5" fill="none" stroke="#000" stroke-width="4.80" stroke-linejoin="round"/>
<path d="M330.0,14.6 L333.6,21.3 L337.2,27.8 L340.8,34.2 L344.4,40.6 L348.0,46.9 L351.6,53.1 L355.2,59.3 L358.8,65.3 L362.4,71.3 L366.0,77.2 L369.6,83.1 L373.2,88.8 L376.8,94.5 L380.4,100.1 L384.0,105.6 L387.6,111.1 L391.2,116.5 L394.8,121.8 L398.4,127.1 L402.0,132.2 L405.6,137.3 L409.2,142.4 L412.8,147.4 L416.4,152.3 L420.0,157.1 L423.6,161.9 L427.2,166.6 L430.8,171.2 L434.4,175.8 L438.0,180.4 L441.6,184.8 L445.2,189.2 L448.8,193.6 L452.4,197.8 L456.0,202.1 L459.6,206.2 L463.2,210.3 L466.9,214.4 L470.5,218.4 L474.1,222.3 L477.7,226.2 L481.3,230.1 L484.9,233.8 L488.5,237.6 L492.1,241.3 L495.7,244.9 L499.3,248.5 L502.9,252.0 L506.5,255.5 L510.1,258.9 L513.7,262.3 L517.3,265.6 L520.9,268.9 L524.5,272.2 L528.1,275.4 L531.7,278.5 L535.3,281.6 L538.9,284.7 L542.5,287.7 L546.1,290.7 L549.7,293.6 L553.3,296.5 L556.9,299.4 L560.5,302.2 L564.1,305.0 L567.7,307.7 L571.3,310.4 L574.9,313.0 L578.5,315.6 L582.1,318.2 L585.7,320.7 L589.3,323.2 L592.9,325.7 L596.5,328.1 L600.1,330.5 L603.7,332.8 L607.3,335.1 L610.9,337.4 L614.5,339.6 L618.1,341.8 L621.7,343.9 L625.3,346.1 L628.9,348.1 L632.5,350.2 L636.1,352.2 L639.7,354.2 L643.3,356.2 L646.9,358.1 L650.5,360.0 L654.1,361.8 L657.7,363.6 L661.3,365.4 L664.9,367.2 L668.5,368.9 L672.1,370.6 L675.7,372.3 L679.3,373.9 L682.9,375.5 L686.5,377.1 L690.1,378.6 L693.7,380.2 L697.3,381.7 L700.9,383.1 L704.5,384.6 L708.1,386.0 L711.7,387.3 L715.3,388.7 L718.9,390.0 L722.5,391.3 L726.1,392.6 L729.7,393.9 L733.3,395.1 L737.0,396.3 L740.6,397.5 L744.2,398.6 L747.8,399.8 L751.4,400.9 L755.0,402.0 L758.6,403.0 L762.2,404.1 L765.8,405.1 L769.4,406.1 L773.0,407.1 L776.6,408.0 L780.2,409.0 L783.8,409.9 L787.4,410.8 L791.0,411.7 L794.6,412.5 L798.2,413.4 L801.8,414.2 L805.4,415.0 L809.0,415.8 L812.6,416.5 L816.2,417.3 L819.8,418.0 L823.4,418.8 L827.0,419.5 L830.6,420.2 L834.2,420.8 L837.8,421.5 L841.4,422.1 L845.0,422.8 L848.6,423.4 L852.2,424.0 L855.8,424.6 L859.4,425.1 L863.0,425.7 L866.6,426.2 L870.2,426.8 L873.8,427.3 L877.4,427.8 L881.0,428.3 L884.6,428.8 L888.2,429.3 L891.8,429.7 L895.4,430.2 L899.0,430.6 L902.6,431.1 L906.2,431.5 L909.8,431.9 L913.4,432.3 L917.0,432.7 L920.6,433.1 L924.2,433.4 L927.8,433.8 L931.4,434.2 L935.0,434.5 L938.6,434.8 L942.2,435.2 L945.8,435.5 L949.4,435.8 L953.0,436.1 L956.6,436.4 L960.2,436.7 L963.8,437.0 L967.4,437.3 L971.0,437.5 L974.6,437.8 L978.2,438.1 L981.8,438.3 L985.4,438.6 L989.0,438.8 L992.6,439.0 L996.2,439.3 L999.8,439.5 L1003.5,439.7 L1007.1,439.9 L1010.7,440.1 L1014.3,440.3 L1017.9,440.5 L1021.5,440.7 L1025.1,440.9 L1028.7,441.1 L1032.3,441.2 L1035.9,441.4 L1039.5,441.6 L1043.1,441.7 L1046.7,441.9 L1050.3,442.1 L1053.9,442.2 L1057.5,442.3 L1061.1,442.5 L1064.7,442.6 L1068.3,442.8 L1071.9,442.9 L1075.5,443.0 L1079.1,443.2 L1082.7,443.3 L1086.3,443.4 L1089.9,443.5 L1093.5,443.6 L1097.1,443.7 L1100.7,443.9 L1104.3,444.0 L1107.9,444.1 L1111.5,444.2 L1115.1,444.3 L1118.7,444.4 L1122.3,444.4 L1125.9,444.5 L1129.5,444.6 L1133.1,444.7 L1136.7,444.8 L1140.3,444.9 L1143.9,445.0 L1147.5,445.0 L1151.1,445.1 L1154.7,445.2 L1158.3,445.3 L1161.9,445.3 L1165.5,445.4 L1169.1,445.5 L1172.7,445.5 L1176.3,445.6 L1179.9,445.6 L1183.5,445.7 L1187.1,445.8 L1190.7,445.8 L1194.3,445.9 L1197.9,445.9 L1201.5,446.0 L1205.1,446.0 L1208.7,446.1 L1212.3,446.1 L1215.9,446.2 L1219.5,446.2 L1223.1,446.3 L1226.7,446.3 L1230.3,446.4 L1233.9,446.4 L1237.5,446.4 L1241.1,446.5 L1244.7,446.5 L1248.3,446.5 L1251.9,446.6 L1255.5,446.6 L1259.1,446.7 L1262.7,446.7 L1266.3,446.7 L1269.9,446.8 L1273.6,446.8 L1277.2,446.8 L1280.8,446.8 L1284.4,446.9 L1288.0,446.9 L1291.6,446.9 L1295.2,447.0 L1298.8,447.0 L1302.4,447.0 L1306.0,447.0 L1309.6,447.1 L1313.2,447.1 L1316.8,447.1 L1320.4,447.1 L1324.0,447.1 L1327.6,447.2 L1331.2,447.2 L1334.8,447.2 L1338.4,447.2 L1342.0,447.2 L1345.6,447.3 L1349.2,447.3 L1352.8,447.3 L1356.4,447.3 L1360.0,447.3 L1363.6,447.3 L1367.2,447.4 L1370.8,447.4 L1374.4,447.4 L1378.0,447.4 L1381.6,447.4 L1385.2,447.4 L1388.8,447.4 L1392.4,447.5 L1396.0,447.5 L1399.6,447.5 L1403.2,447.5 L1406.8,447.5" fill="none" stroke="#1f77b4" stroke-width="6.40" stroke-dasharray="23.68 10.24" stroke-dashoffset="16.20"/>
<path d="M325.0,14.4 L328.6,20.9 L332.2,27.4 L335.9,33.8 L339.5,40.1 L343.1,46.4 L346.7,52.6 L350.3,58.8 L353.9,64.9 L357.6,70.9 L361.2,76.9 L364.8,82.8 L368.4,88.7 L372.0,94.5 L375.7,100.2 L379.3,105.9 L382.9,111.5 L386.5,117.0 L390.1,122.5 L393.7,127.9 L397.4,133.2 L401.0,138.5 L404.6,143.7 L408.2,148.8 L411.8,153.9 L415.5,158.9 L419.1,163.8 L422.7,168.7 L426.3,173.5 L429.9,178.2 L433.5,182.9 L437.2,187.5 L440.8,192.1 L444.4,196.6 L448.0,201.0 L451.6,205.4 L455.3,209.7 L458.9,213.9 L462.5,218.1 L466.1,222.2 L469.7,226.3 L473.3,230.3 L477.0,234.2 L480.6,238.1 L484.2,241.9 L487.8,245.7 L491.4,249.4 L495.0,253.1 L498.7,256.7 L502.3,260.3 L505.9,263.8 L509.5,267.3 L513.1,270.7 L516.8,274.0 L520.4,277.3 L524.0,280.6 L527.6,283.8 L531.2,287.0 L534.8,290.1 L538.5,293.1 L542.1,296.2 L545.7,299.1 L549.3,302.1 L552.9,305.0 L556.6,307.8 L560.2,310.6 L563.8,313.4 L567.4,316.1 L571.0,318.8 L574.6,321.4 L578.3,324.0 L581.9,326.6 L585.5,329.1 L589.1,331.6 L592.7,334.0 L596.4,336.4 L600.0,338.8 L603.6,341.1 L607.2,343.4 L610.8,345.6 L614.4,347.8 L618.1,350.0 L621.7,352.2 L625.3,354.3 L628.9,356.4 L632.5,358.4 L636.2,360.4 L639.8,362.4 L643.4,364.4 L647.0,366.3 L650.6,368.1 L654.2,370.0 L657.9,371.8 L661.5,373.6 L665.1,375.4 L668.7,377.1 L672.3,378.8 L676.0,380.4 L679.6,382.1 L683.2,383.7 L686.8,385.3 L690.4,386.8 L694.0,388.3 L697.7,389.8 L701.3,391.3 L704.9,392.7 L708.5,394.1 L712.1,395.5 L715.8,396.9 L719.4,398.2 L723.0,399.5 L726.6,400.8 L730.2,402.0 L733.8,403.3 L737.5,404.5 L741.1,405.6 L744.7,406.8 L748.3,407.9 L751.9,409.1 L755.5,410.1 L759.2,411.2 L762.8,412.2 L766.4,413.3 L770.0,414.3 L773.6,415.2 L777.3,416.2 L780.9,417.1 L784.5,418.1 L788.1,419.0 L791.7,419.8 L795.3,420.7 L799.0,421.5 L802.6,422.4 L806.2,423.2 L809.8,423.9 L813.4,424.7 L817.1,425.5 L820.7,426.2 L824.3,426.9 L827.9,427.6 L831.5,428.3 L835.1,429.0 L838.8,429.6 L842.4,430.3 L846.0,430.9 L849.6,431.5 L853.2,432.1 L856.9,432.7 L860.5,433.2 L864.1,433.8 L867.7,434.3 L871.3,434.8 L874.9,435.3 L878.6,435.8 L882.2,436.3 L885.8,436.8 L889.4,437.3 L893.0,437.7 L896.7,438.2 L900.3,438.6 L903.9,439.0 L907.5,439.4 L911.1,439.8 L914.7,440.2 L918.4,440.6 L922.0,441.0 L925.6,441.3 L929.2,441.7 L932.8,442.0 L936.5,442.3 L940.1,442.7 L943.7,443.0 L947.3,443.3 L950.9,443.6 L954.5,443.9 L958.2,444.2 L961.8,444.5 L965.4,444.7 L969.0,445.0 L972.6,445.2 L976.3,445.5 L979.9,445.7 L983.5,446.0 L987.1,446.2 L990.7,446.4 L994.3,446.6 L998.0,446.9 L1001.6,447.1 L1005.2,447.3 L1008.8,447.5 L1012.4,447.7 L1016.0,447.8 L1019.7,448.0 L1023.3,448.2 L1026.9,448.4 L1030.5,448.5 L1034.1,448.7 L1037.8,448.9 L1041.4,449.0 L1045.0,449.2 L1048.6,449.3 L1052.2,449.5 L1055.8,449.6 L1059.5,449.7 L1063.1,449.9 L1066.7,450.0 L1070.3,450.1 L1073.9,450.2 L1077.6,450.3 L1081.2,450.5 L1084.8,450.6 L1088.4,450.7 L1092.0,450.8 L1095.6,450.9 L1099.3,451.0 L1102.9,451.1 L1106.5,451.2 L1110.1,451.3 L1113.7,451.3 L1117.4,451.4 L1121.0,451.5 L1124.6,451.6 L1128.2,451.7 L1131.8,451.8 L1135.4,451.8 L1139.1,451.9 L1142.7,452.0 L1146.3,452.0 L1149.9,452.1 L1153.5,452.2 L1157.2,452.2 L1160.8,452.3 L1164.4,452.4 L1168.0,452.4 L1171.6,452.5 L1175.2,452.5 L1178.9,452.6 L1182.5,452.6 L1186.1,452.7 L1189.7,452.7 L1193.3,452.8 L1197.0,452.8 L1200.6,452.9 L1204.2,452.9 L1207.8,453.0 L1211.4,453.0 L1215.0,453.0 L1218.7,453.1 L1222.3,453.1 L1225.9,453.2 L1229.5,453.2 L1233.1,453.2 L1236.8,453.3 L1240.4,453.3 L1244.0,453.3 L1247.6,453.4 L1251.2,453.4 L1254.8,453.4 L1258.5,453.5 L1262.1,453.5 L1265.7,453.5 L1269.3,453.5 L1272.9,453.6 L1276.5,453.6 L1280.2,453.6 L1283.8,453.6 L1287.4,453.7 L1291.0,453.7 L1294.6,453.7 L1298.3,453.7 L1301.9,453.7 L1305.5,453.8 L1309.1,453.8 L1312.7,453.8 L1316.3,453.8 L1320.0,453.8 L1323.6,453.9 L1327.2,453.9 L1330.8,453.9 L1334.4,453.9 L1338.1,453.9 L1341.7,453.9 L1345.3,454.0 L1348.9,454.0 L1352.5,454.0 L1356.1,454.0 L1359.8,454.0 L1363.4,454.0 L1367.0,454.0 L1370.6,454.0 L1374.2,454.1 L1377.9,454.1 L1381.5,454.1 L1385.1,454.1 L1388.7,454.1 L1392.3,454.1 L1395.9,454.1 L1399.6,454.1 L1403.2,454.1 L1406.8,454.1" fill="none" stroke="#d62728" stroke-width="6.40" stroke-dasharray="23.68 10.24" stroke-dashoffset="6.10"/>
<path d="M191.3,119.2 L195.4,124.6 L199.4,130.0 L203.5,135.3 L207.6,140.7 L211.6,146.0 L215.7,151.3 L219.8,156.5 L223.8,161.8 L227.9,167.0 L232.0,172.1 L236.0,177.3 L240.1,182.4 L244.1,187.5 L248.2,192.6 L252.3,197.6 L256.3,202.6 L260.4,207.5 L264.5,212.5 L268.5,217.3 L272.6,222.2 L276.7,227.0 L280.7,231.8 L284.8,236.5 L288.9,241.2 L292.9,245.8 L297.0,250.4 L301.1,255.0 L305.1,259.5 L309.2,263.9 L313.3,268.4 L317.3,272.7 L321.4,277.0 L325.5,281.3 L329.5,285.5 L333.6,289.7 L337.6,293.8 L341.7,297.9 L345.8,301.9 L349.8,305.9 L353.9,309.8 L358.0,313.6 L362.0,317.4 L366.1,321.2 L370.2,324.9 L374.2,328.5 L378.3,332.1 L382.4,335.7 L386.4,339.1 L390.5,342.6 L394.6,346.0 L398.6,349.3 L402.7,352.6 L406.8,355.9 L410.8,359.1 L414.9,362.2 L419.0,365.3 L423.0,368.4 L427.1,371.4 L431.1,374.3 L435.2,377.3 L439.3,380.1 L443.3,383.0 L447.4,385.8 L451.5,388.6 L455.5,391.3 L459.6,394.0 L463.7,396.6 L467.7,399.2 L471.8,401.8 L475.9,404.4 L479.9,406.9 L484.0,409.4 L488.1,411.8 L492.1,414.2 L496.2,416.6 L500.3,419.0 L504.3,421.3 L508.4,423.6 L512.5,425.9 L516.5,428.1 L520.6,430.4 L524.6,432.6 L528.7,434.7 L532.8,436.9 L536.8,439.0 L540.9,441.1 L545.0,443.2 L549.0,445.3 L553.1,447.3 L557.2,449.3 L561.2,451.3 L565.3,453.3 L569.4,455.3 L573.4,457.2 L577.5,459.1 L581.6,461.0 L585.6,462.9 L589.7,464.8 L593.8,466.6 L597.8,468.4 L601.9,470.3 L606.0,472.0 L610.0,473.8 L614.1,475.6 L618.1,477.3 L622.2,479.0 L626.3,480.7 L630.3,482.4 L634.4,484.1 L638.5,485.7 L642.5,487.4 L646.6,489.0 L650.7,490.6 L654.7,492.2 L658.8,493.7 L662.9,495.3 L666.9,496.8 L671.0,498.3 L675.1,499.8 L679.1,501.3 L683.2,502.7 L687.3,504.2 L691.3,505.6 L695.4,507.0 L699.5,508.4 L703.5,509.8 L707.6,511.1 L711.6,512.5 L715.7,513.8 L719.8,515.1 L723.8,516.4 L727.9,517.6 L732.0,518.9 L736.0,520.1 L740.1,521.3 L744.2,522.5 L748.2,523.7 L752.3,524.9 L756.4,526.0 L760.4,527.1 L764.5,528.2 L768.6,529.3 L772.6,530.4 L776.7,531.5 L780.8,532.5 L784.8,533.5 L788.9,534.5 L793.0,535.5 L797.0,536.5 L801.1,537.4 L805.1,538.4 L809.2,539.3 L813.3,540.2 L817.3,541.1 L821.4,542.0 L825.5,542.8 L829.5,543.6 L833.6,544.5 L837.7,545.3 L841.7,546.1 L845.8,546.8 L849.9,547.6 L853.9,548.3 L858.0,549.1 L862.1,549.8 L866.1,550.5 L870.2,551.1 L874.3,551.8 L878.3,552.5 L882.4,553.1 L886.5,553.7 L890.5,554.3 L894.6,554.9 L898.6,555.5 L902.7,556.1 L906.8,556.6 L910.8,557.2 L914.9,557.7 L919.0,558.2 L923.0,558.7 L927.1,559.2 L931.2,559.7 L935.2,560.2 L939.3,560.6 L943.4,561.1 L947.4,561.5 L951.5,561.9 L955.6,562.4 L959.6,562.8 L963.7,563.2 L967.8,563.5 L971.8,563.9 L975.9,564.3 L980.0,564.6 L984.0,565.0 L988.1,565.3 L992.1,565.6 L996.2,566.0 L1000.3,566.3 L1004.3,566.6 L1008.4,566.9 L1012.5,567.2 L1016.5,567.4 L1020.6,567.7 L1024.7,568.0 L1028.7,568.2 L1032.8,568.5 L1036.9,568.7 L1040.9,569.0 L1045.0,569.2 L1049.1,569.4 L1053.1,569.6 L1057.2,569.8 L1061.3,570.1 L1065.3,570.3 L1069.4,570.4 L1073.5,570.6 L1077.5,570.8 L1081.6,571.0 L1085.6,571.2 L1089.7,571.3 L1093.8,571.5 L1097.8,571.7 L1101.9,571.8 L1106.0,572.0 L1110.0,572.1 L1114.1,572.2 L1118.2,572.4 L1122.2,572.5 L1126.3,572.6 L1130.4,572.8 L1134.4,572.9 L1138.5,573.0 L1142.6,573.1 L1146.6,573.2 L1150.7,573.3 L1154.8,573.4 L1158.8,573.5 L1162.9,573.6 L1167.0,573.7 L1171.0,573.8 L1175.1,573.9 L1179.1,574.0 L1183.2,574.1 L1187.3,574.2 L1191.3,574.3 L1195.4,574.3 L1199.5,574.4 L1203.5,574.5 L1207.6,574.6 L1211.7,574.6 L1215.7,574.7 L1219.8,574.8 L1223.9,574.8 L1227.9,574.9 L1232.0,574.9 L1236.1,575.0 L1240.1,575.1 L1244.2,575.1 L1248.3,575.2 L1252.3,575.2 L1256.4,575.3 L1260.5,575.3 L1264.5,575.4 L1268.6,575.4 L1272.6,575.4 L1276.7,575.5 L1280.8,575.5 L1284.8,575.6 L1288.9,575.6 L1293.0,575.6 L1297.0,575.7 L1301.1,575.7 L1305.2,575.7 L1309.2,575.8 L1313.3,575.8 L1317.4,575.8 L1321.4,575.9 L1325.5,575.9 L1329.6,575.9 L1333.6,576.0 L1337.7,576.0 L1341.8,576.0 L1345.8,576.0 L1349.9,576.1 L1354.0,576.1 L1358.0,576.1 L1362.1,576.1 L1366.1,576.1 L1370.2,576.2 L1374.3,576.2 L1378.3,576.2 L1382.4,576.2 L1386.5,576.2 L1390.5,576.3 L1394.6,576.3 L1398.7,576.3 L1402.7,576.3 L1406.8,576.3" fill="none" stroke="#1f77b4" stroke-width="6.40"/>
<path d="M191.3,113.1 L195.4,119.1 L199.4,125.2 L203.5,131.1 L207.6,137.1 L211.6,143.0 L215.7,148.9 L219.8,154.7 L223.8,160.6 L227.9,166.3 L232.0,172.1 L236.0,177.8 L240.1,183.4 L244.1,189.1 L248.2,194.6 L252.3,200.2 L256.3,205.7 L260.4,211.1 L264.5,216.5 L268.5,221.9 L272.6,227.2 L276.7,232.4 L280.7,237.7 L284.8,242.8 L288.9,248.0 L292.9,253.0 L297.0,258.1 L301.1,263.0 L305.1,267.9 L309.2,272.8 L313.3,277.6 L317.3,282.4 L321.4,287.1 L325.5,291.8 L329.5,296.4 L333.6,300.9 L337.6,305.4 L341.7,309.9 L345.8,314.3 L349.8,318.7 L353.9,323.0 L358.0,327.2 L362.0,331.4 L366.1,335.5 L370.2,339.6 L374.2,343.7 L378.3,347.7 L382.4,351.6 L386.4,355.5 L390.5,359.4 L394.6,363.2 L398.6,366.9 L402.7,370.6 L406.8,374.3 L410.8,377.9 L414.9,381.5 L419.0,385.1 L423.0,388.6 L427.1,392.0 L431.1,395.5 L435.2,398.8 L439.3,402.2 L443.3,405.5 L447.4,408.8 L451.5,412.0 L455.5,415.2 L459.6,418.4 L463.7,421.5 L467.7,424.6 L471.8,427.7 L475.9,430.7 L479.9,433.7 L484.0,436.7 L488.1,439.7 L492.1,442.6 L496.2,445.4 L500.3,448.3 L504.3,451.1 L508.4,453.9 L512.5,456.6 L516.5,459.3 L520.6,461.9 L524.6,464.6 L528.7,467.2 L532.8,469.7 L536.8,472.2 L540.9,474.7 L545.0,477.1 L549.0,479.5 L553.1,481.8 L557.2,484.1 L561.2,486.4 L565.3,488.6 L569.4,490.8 L573.4,492.9 L577.5,495.0 L581.6,497.0 L585.6,499.1 L589.7,501.0 L593.8,503.0 L597.8,504.9 L601.9,506.8 L606.0,508.6 L610.0,510.5 L614.1,512.3 L618.1,514.0 L622.2,515.8 L626.3,517.5 L630.3,519.2 L634.4,520.9 L638.5,522.6 L642.5,524.2 L646.6,525.9 L650.7,527.5 L654.7,529.1 L658.8,530.7 L662.9,532.2 L666.9,533.8 L671.0,535.3 L675.1,536.8 L679.1,538.3 L683.2,539.7 L687.3,541.2 L691.3,542.5 L695.4,543.9 L699.5,545.2 L703.5,546.5 L707.6,547.7 L711.6,548.9 L715.7,550.1 L719.8,551.2 L723.8,552.3 L727.9,553.3 L732.0,554.3 L736.0,555.3 L740.1,556.3 L744.2,557.2 L748.2,558.2 L752.3,559.1 L756.4,560.0 L760.4,560.8 L764.5,561.7 L768.6,562.5 L772.6,563.3 L776.7,564.2 L780.8,565.0 L784.8,565.8 L788.9,566.5 L793.0,567.3 L797.0,568.0 L801.1,568.8 L805.1,569.5 L809.2,570.2 L813.3,570.9 L817.3,571.6 L821.4,572.2 L825.5,572.9 L829.5,573.5 L833.6,574.1 L837.7,574.7 L841.7,575.3 L845.8,575.9 L849.9,576.5 L853.9,577.0 L858.0,577.5 L862.1,578.0 L866.1,578.5 L870.2,579.0 L874.3,579.5 L878.3,579.9 L882.4,580.4 L886.5,580.8 L890.5,581.2 L894.6,581.7 L898.6,582.1 L902.7,582.4 L906.8,582.8 L910.8,583.2 L914.9,583.5 L919.0,583.9 L923.0,584.2 L927.1,584.5 L931.2,584.9 L935.2,585.2 L939.3,585.5 L943.4,585.7 L947.4,586.0 L951.5,586.3 L955.6,586.6 L959.6,586.8 L963.7,587.1 L967.8,587.3 L971.8,587.5 L975.9,587.8 L980.0,588.0 L984.0,588.2 L988.1,588.4 L992.1,588.6 L996.2,588.8 L1000.3,589.0 L1004.3,589.2 L1008.4,589.3 L1012.5,589.5 L1016.5,589.7 L1020.6,589.8 L1024.7,590.0 L1028.7,590.2 L1032.8,590.3 L1036.9,590.4 L1040.9,590.6 L1045.0,590.7 L1049.1,590.8 L1053.1,591.0 L1057.2,591.1 L1061.3,591.2 L1065.3,591.3 L1069.4,591.4 L1073.5,591.5 L1077.5,591.6 L1081.6,591.7 L1085.6,591.8 L1089.7,591.9 L1093.8,592.0 L1097.8,592.1 L1101.9,592.2 L1106.0,592.3 L1110.0,592.4 L1114.1,592.4 L1118.2,592.5 L1122.2,592.6 L1126.3,592.7 L1130.4,592.7 L1134.4,592.8 L1138.5,592.8 L1142.6,592.9 L1146.6,593.0 L1150.7,593.0 L1154.8,593.1 L1158.8,593.1 L1162.9,593.2 L1167.0,593.2 L1171.0,593.3 L1175.1,593.3 L1179.1,593.4 L1183.2,593.4 L1187.3,593.5 L1191.3,593.5 L1195.4,593.6 L1199.5,593.6 L1203.5,593.6 L1207.6,593.7 L1211.7,593.7 L1215.7,593.7 L1219.8,593.8 L1223.9,593.8 L1227.9,593.8 L1232.0,593.9 L1236.1,593.9 L1240.1,593.9 L1244.2,593.9 L1248.3,594.0 L1252.3,594.0 L1256.4,594.0 L1260.5,594.0 L1264.5,594.1 L1268.6,594.1 L1272.6,594.1 L1276.7,594.1 L1280.8,594.2 L1284.8,594.2 L1288.9,594.2 L1293.0,594.2 L1297.0,594.2 L1301.1,594.2 L1305.2,594.3 L1309.2,594.3 L1313.3,594.3 L1317.4,594.3 L1321.4,594.3 L1325.5,594.3 L1329.6,594.4 L1333.6,594.4 L1337.7,594.4 L1341.8,594.4 L1345.8,594.4 L1349.9,594.4 L1354.0,594.4 L1358.0,594.4 L1362.1,594.4 L1366.1,594.5 L1370.2,594.5 L1374.3,594.5 L1378.3,594.5 L1382.4,594.5 L1386.5,594.5 L1390.5,594.5 L1394.6,594.5 L1398.7,594.5 L1402.7,594.5 L1406.8,594.5" fill="none" stroke="#d62728" stroke-width="6.40"/>
</g>
<path d="M195.30,986.00 v13.30 M799.05,986.00 v13.30 M1402.80,986.00 v13.30 M195.30,986.00 h-13.30 M195.30,794.02 h-13.30 M195.30,602.04 h-13.30 M195.30,410.06 h-13.30 M195.30,218.08 h-13.30 M195.30,26.10 h-13.30" stroke="#000" stroke-width="6.80" fill="none"/>
<path d="M377.05,986.00 v6.80 M483.36,986.00 v6.80 M558.79,986.00 v6.80 M617.30,986.00 v6.80 M665.11,986.00 v6.80 M705.53,986.00 v6.80 M740.54,986.00 v6.80 M771.42,986.00 v6.80 M980.80,986.00 v6.80 M1087.11,986.00 v6.80 M1162.54,986.00 v6.80 M1221.05,986.00 v6.80 M1268.86,986.00 v6.80 M1309.28,986.00 v6.80 M1344.29,986.00 v6.80 M1375.17,986.00 v6.80" stroke="#000" stroke-width="4.40" fill="none"/>
<rect x="195.30" y="26.10" width="1207.50" height="959.90" fill="none" stroke="#000" stroke-width="7.80"/>
<text x="159.5" y="1003.9" font-size="49.5" text-anchor="end">10<tspan dy="-17.6" dx="-0.3" font-size="37.1">2</tspan></text>
<text x="159.5" y="811.9" font-size="49.5" text-anchor="end">10<tspan dy="-17.6" dx="-0.3" font-size="37.1">4</tspan></text>
<text x="159.5" y="619.9" font-size="49.5" text-anchor="end">10<tspan dy="-17.6" dx="-0.3" font-size="37.1">6</tspan></text>
<text x="159.5" y="428.0" font-size="49.5" text-anchor="end">10<tspan dy="-17.6" dx="-0.3" font-size="37.1">8</tspan></text>
<text x="159.5" y="236.0" font-size="49.5" text-anchor="end">10<tspan dy="-17.6" dx="-0.3" font-size="37.1">10</tspan></text>
<text x="159.5" y="44.0" font-size="49.5" text-anchor="end">10<tspan dy="-17.6" dx="-0.3" font-size="37.1">12</tspan></text>
<text x="194.8" y="1057.2" font-size="49.5" text-anchor="middle">10<tspan dy="-17.6" dx="-0.3" font-size="37.1">0</tspan></text>
<text x="798.5" y="1057.2" font-size="49.5" text-anchor="middle">10<tspan dy="-17.6" dx="-0.3" font-size="37.1">1</tspan></text>
<text x="1402.3" y="1057.2" font-size="49.5" text-anchor="middle">10<tspan dy="-17.6" dx="-0.3" font-size="37.1">2</tspan></text>
<text transform="translate(28.5,504.3) rotate(-90) scale(1.28,1.04)" font-size="56" font-style="italic" text-anchor="middle">α</text>
<text transform="translate(709,1136) scale(1.24,1)" font-size="55">λ</text>
<text x="766.3" y="1138" font-size="62">[</text>
<text x="787" y="1136" font-size="50" textLength="86.5" lengthAdjust="spacingAndGlyphs">µm</text>
<text x="871.3" y="1138" font-size="62">]</text>
<text transform="translate(245.5,398.0) rotate(30.50)" font-size="50.0" textLength="316.0" lengthAdjust="spacingAndGlyphs">Sushkov 2011</text>
<text transform="translate(288.0,642.0) rotate(21.30)" font-size="50.0" textLength="244.0" lengthAdjust="spacingAndGlyphs">Chen 2016</text>
<text transform="translate(673.8,803.8) rotate(50.50)" font-size="50.0" textLength="203.5" lengthAdjust="spacingAndGlyphs">Lee 2020</text>
<text transform="translate(1043.0,880.3) rotate(10.40)" font-size="50.0" textLength="266.0" lengthAdjust="spacingAndGlyphs">Geraci 2008</text>
<g>
<rect x="738.5" y="55.2" width="627.9" height="211" fill="#fff" fill-opacity="0.6" stroke="#808080" stroke-opacity="0.66" stroke-width="5.2"/>
<text x="957" y="113.9" font-size="50" textLength="172" lengthAdjust="spacingAndGlyphs">Current</text>
<text x="1179.5" y="114.3" font-size="50" textLength="107" lengthAdjust="spacingAndGlyphs">2021</text>
<text transform="translate(768,175.2) scale(1.25,1)" font-size="50" font-style="italic">α</text>
<text transform="translate(822.6,183) scale(1.41,1.36)" font-size="48">&gt;</text>
<text x="878" y="175.2" font-size="50">0</text>
<text transform="translate(768,236.3) scale(1.25,1)" font-size="50" font-style="italic">α</text>
<text transform="translate(822.6,244.1) scale(1.41,1.36)" font-size="48">&lt;</text>
<text x="878" y="236.3" font-size="50">0</text>
<path d="M954.1,157.2 H1114.4" stroke="#1f77b4" stroke-width="6.4"/>
<path d="M954.1,218.3 H1114.4" stroke="#d62728" stroke-width="6.4"/>
<path d="M1180.2,157.2 H1334.2" stroke="#1f77b4" stroke-width="6.4" stroke-dasharray="23.68 10.24"/>
<path d="M1180.2,218.3 H1334.2" stroke="#d62728" stroke-width="6.4" stroke-dasharray="23.68 10.24"/>
</g>
</svg></body></html>
